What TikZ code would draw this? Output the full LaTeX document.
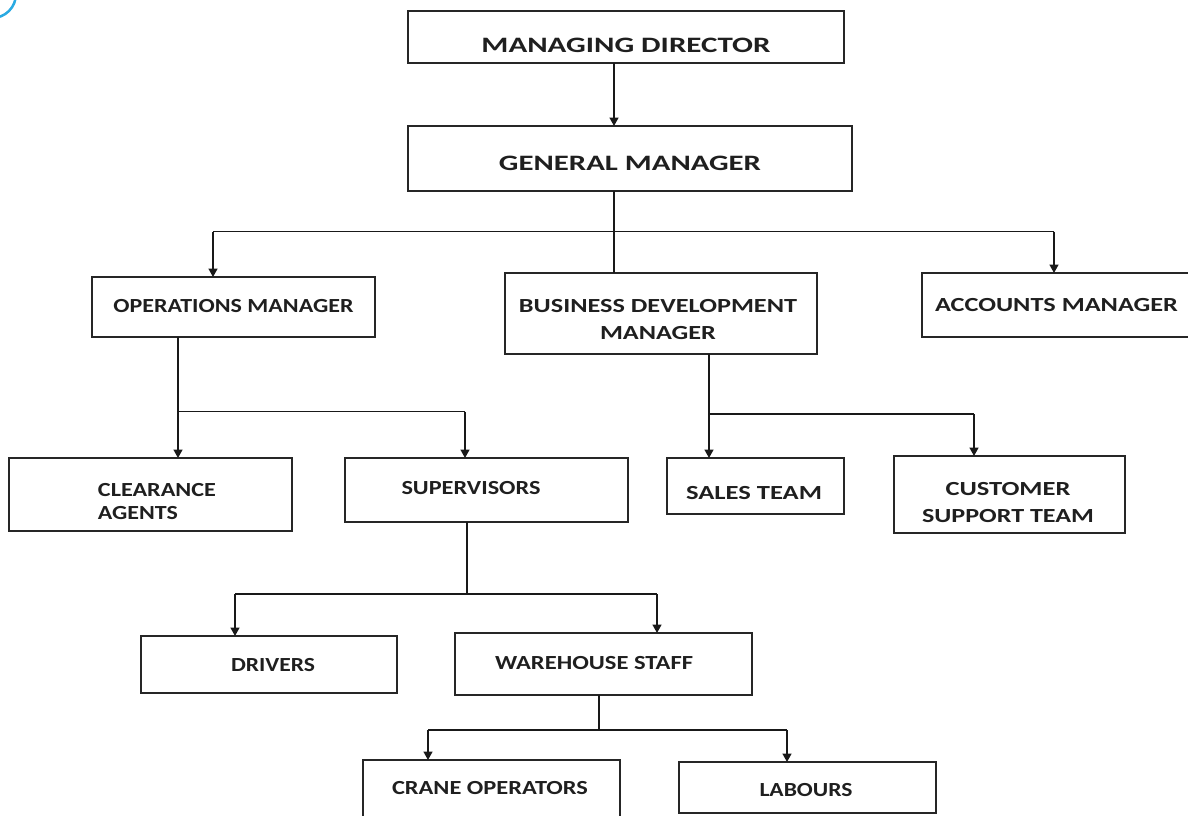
\documentclass[tikz,border=0pt]{standalone}
\usepackage{fontspec}
\setmainfont{Carlito}
\usetikzlibrary{arrows.meta,calc}
\definecolor{arcblue}{HTML}{2AAAE2}
\newcommand\tw[2]{\resizebox{#1pt}{\height}{#2}}
\begin{document}
\begin{tikzpicture}[x=1pt,y=-1pt,
  box/.style={draw=black!85, line width=1.5pt, inner sep=0pt, outer sep=0pt},
  lbl/.style={font=\bfseries\fontsize{20}{27}\selectfont, text=black!88, inner sep=0pt, align=center},
  lblbig/.style={lbl, font=\bfseries\fontsize{22}{27}\selectfont},
  ln/.style={line width=1.6pt, black!90},
  arr/.style={ln, -{Triangle[length=8.5pt,width=9pt]}}]
\useasboundingbox (0,0) rectangle (1188,815);
% decoration arc top-left
\draw[arcblue, line width=2.5pt] (-8,-6) circle[radius=24];
% boxes
\node[box, minimum width=436pt, minimum height=52pt,
  label={[lblbig, yshift=-8pt]center:\tw{289}{MANAGING DIRECTOR}}] (md) at (626,37) {};
\node[box, minimum width=444pt, minimum height=65pt,
  label={[lblbig, yshift=-4.5pt]center:\tw{262}{GENERAL MANAGER}}] (gm) at (630,158.5) {};
\node[box, minimum width=283pt, minimum height=60pt,
  label={[lbl, yshift=1pt]center:\tw{240}{OPERATIONS MANAGER}}] (om) at (233.5,307) {};
\node[box, minimum width=312pt, minimum height=81pt,
  label={[lbl, yshift=-6pt, xshift=-3pt]center:\tw{278}{BUSINESS DEVELOPMENT}\\\tw{116}{MANAGER}}] (bdm) at (661,313.5) {};
\node[box, minimum width=273pt, minimum height=64pt,
  label={[lbl, xshift=-2pt]center:\tw{243}{ACCOUNTS MANAGER}}] (am) at (1058.5,305) {};
\node[box, minimum width=283pt, minimum height=73pt,
  label={[lbl, align=left, font=\bfseries\fontsize{20}{23}\selectfont, yshift=-7pt, xshift=6.5pt]center:\tw{118}{CLEARANCE}\\\tw{80}{AGENTS}}] (ca) at (150.5,494.5) {};
\node[box, minimum width=283pt, minimum height=64pt,
  label={[lbl, yshift=2pt, xshift=-15.5pt]center:\tw{139}{SUPERVISORS}}] (sup) at (486.5,490) {};
\node[box, minimum width=177pt, minimum height=56pt,
  label={[lbl, yshift=-7pt, xshift=-1.5pt]center:\tw{136}{SALES TEAM}}] (sales) at (755.5,486) {};
\node[box, minimum width=231pt, minimum height=77pt,
  label={[lbl, yshift=-8pt, xshift=-1.5pt]center:\tw{125}{CUSTOMER}\\\tw{172}{SUPPORT TEAM}}] (cst) at (1009.5,494.5) {};
\node[box, minimum width=256pt, minimum height=57pt,
  label={[lbl, yshift=-0.5pt, xshift=4pt]center:\tw{84}{DRIVERS}}] (drv) at (269,664.5) {};
\node[box, minimum width=297pt, minimum height=62pt,
  label={[lbl, yshift=1pt, xshift=-9.5pt]center:\tw{198}{WAREHOUSE STAFF}}] (ws) at (603.5,664) {};
\node[box, minimum width=257pt, minimum height=70pt,
  label={[lbl, yshift=7pt, xshift=-1.5pt]center:\tw{196}{CRANE OPERATORS}}] (co) at (491.5,795) {};
\node[box, minimum width=257pt, minimum height=51pt,
  label={[lbl, yshift=-2.5pt, xshift=-1.5pt]center:\tw{93}{LABOURS}}] (lab) at (807.5,787.5) {};
% junction points
\coordinate (j1) at (614,231.5);
\coordinate (j1L) at (213,231.5);
\coordinate (j1R) at (1054,231.5);
\coordinate (j2) at (178,411.5);
\coordinate (j2R) at (465,411.5);
\coordinate (j3) at (709,414);
\coordinate (j3R) at (974,414);
\coordinate (j4) at (467,594);
\coordinate (j4L) at (235,594);
\coordinate (j4R) at (657,594);
\coordinate (j5) at (599,730);
\coordinate (j5L) at (428,730);
\coordinate (j5R) at (787,730);
% connectors
\draw[arr] (md.south -| j1) -- (gm.north -| j1);
\draw[ln] (gm.south -| j1) -- (bdm.north -| j1);
\draw[ln] (j1L) -- (j1R);
\draw[arr] (j1L) -- (j1L |- om.north);
\draw[arr] (j1R) -- (j1R |- am.north);
\draw[ln] (om.south -| j2) -- (j2) -- (j2R);
\draw[arr] (j2) -- (j2 |- ca.north);
\draw[arr] (j2R) -- (j2R |- sup.north);
\draw[ln] (bdm.south -| j3) -- (j3) -- (j3R);
\draw[arr] (j3) -- (j3 |- sales.north);
\draw[arr] (j3R) -- (j3R |- cst.north);
\draw[ln] (sup.south -| j4) -- (j4);
\draw[ln] (j4L) -- (j4R);
\draw[arr] (j4L) -- (j4L |- drv.north);
\draw[arr] (j4R) -- (j4R |- ws.north);
\draw[ln] (ws.south -| j5) -- (j5);
\draw[ln] (j5L) -- (j5R);
\draw[arr] (j5L) -- (j5L |- co.north);
\draw[arr] (j5R) -- (j5R |- lab.north);
\end{tikzpicture}
\end{document}
